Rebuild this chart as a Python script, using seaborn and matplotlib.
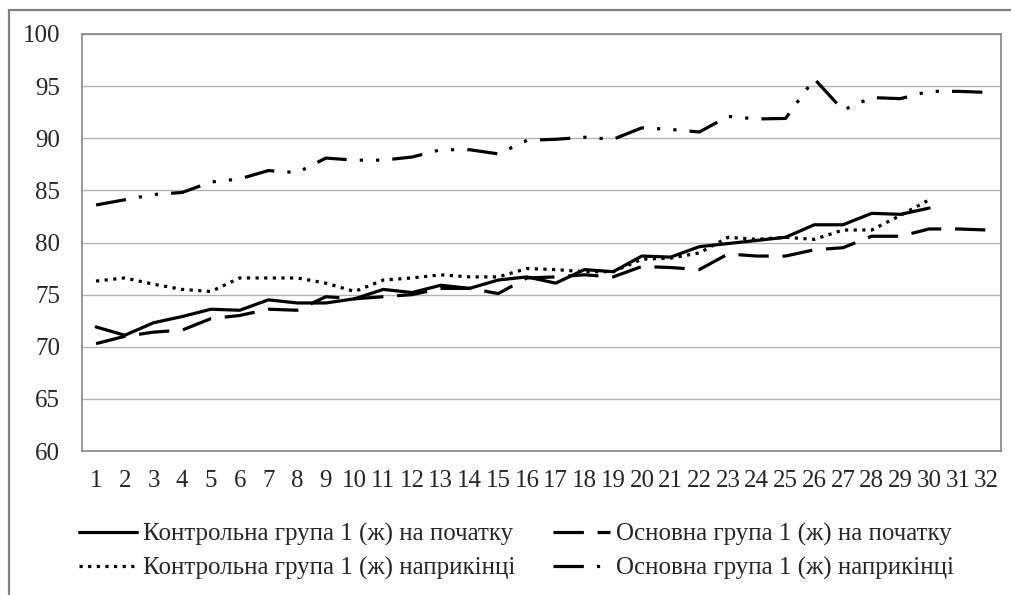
import matplotlib
matplotlib.use("Agg")
import matplotlib.pyplot as plt
from matplotlib.patches import Rectangle
import seaborn as sns
import numpy as np

# ---- data ----
categories = list(range(1, 33))
y_ticks = [60, 65, 70, 75, 80, 85, 90, 95, 100]

label_k_start = "Контрольна група 1 (ж) на початку"
label_o_start = "Основна група 1 (ж) на початку"
label_k_end = "Контрольна група 1 (ж) наприкінці"
label_o_end = "Основна група 1 (ж) наприкінці"

k_start = [71.9, 71.1, 72.3, 72.9, 73.6, 73.5, 74.5, 74.2, 74.2, 74.6,
           75.5, 75.2, 75.9, 75.6, 76.4, 76.7, 76.1, 77.4, 77.2, 78.7,
           78.6, 79.6, 79.9, 80.2, 80.5, 81.7, 81.7, 82.8, 82.7, 83.3]
o_start = [70.3, 71.0, 71.4, 71.6, 72.7, 73.0, 73.6, 73.5, 74.8, 74.6,
           74.8, 75.0, 75.6, 75.6, 75.1, 76.6, 76.7, 76.9, 76.7, 77.7,
           77.6, 77.4, 78.9, 78.7, 78.7, 79.3, 79.5, 80.6, 80.6, 81.3,
           81.3, 81.2]
k_end = [76.3, 76.6, 76.0, 75.5, 75.3, 76.6, 76.6, 76.6, 76.1, 75.3,
         76.4, 76.6, 76.9, 76.7, 76.7, 77.5, 77.4, 77.2, 77.2, 78.4,
         78.5, 79.0, 80.5, 80.3, 80.5, 80.3, 81.2, 81.2, 82.6, 84.1]
o_end = [83.6, 84.1, 84.6, 84.8, 85.8, 86.1, 86.9, 86.7, 88.1, 87.9,
         87.9, 88.2, 88.9, 88.9, 88.5, 89.8, 89.9, 90.1, 89.9, 91.0,
         90.85, 90.6, 92.1, 91.85, 91.9, 95.7, 92.7, 93.9, 93.8, 94.5,
         94.5, 94.4]

# ---- style ----
sns.set_style("white")
plt.rcParams["font.family"] = ["Liberation Serif", "DejaVu Serif"]
FS = 18

W, H = 1011, 595
fig = plt.figure(figsize=(W / 100, H / 100), dpi=100)
left, right, top, bottom = 81.7, 1001.0, 34.0, 451.0
ax = fig.add_axes([left / W, 1 - bottom / H, (right - left) / W, (bottom - top) / H])

LW = 2.3
sns.lineplot(x=categories[:len(k_start)], y=k_start, ax=ax, color="black",
             linewidth=LW, linestyle="-", label=label_k_start)
sns.lineplot(x=categories[:len(k_end)], y=k_end, ax=ax, color="black",
             linewidth=LW, linestyle=(0, (1, 1.7)), label=label_k_end)
sns.lineplot(x=categories[:len(o_start)], y=o_start, ax=ax, color="black",
             linewidth=LW, linestyle=(0, (9.5, 4.3)), label=label_o_start)
sns.lineplot(x=categories[:len(o_end)], y=o_end, ax=ax, color="black",
             linewidth=LW, linestyle=(0, (9.5, 4.1, 1, 4.1, 1, 4.1)), label=label_o_end)

ax.set_xlim(0.5, 32.5)
ax.set_ylim(60, 100)
ax.set_yticks(y_ticks)
ax.set_yticklabels([str(v) for v in y_ticks], fontsize=FS)
ax.set_xticks(categories)
ax.set_xticklabels([str(c) for c in categories], fontsize=FS)
ax.set_xticks(np.arange(0.5, 33, 1.0), minor=True)
ax.tick_params(axis="x", which="major", length=0, pad=14)
ax.tick_params(axis="x", which="minor", length=6.5, width=1, color="#868686", direction="out")
ax.tick_params(axis="y", which="major", length=6.5, width=1, color="#868686",
               direction="out", pad=9)
ax.set_xlabel("")
ax.set_ylabel("")

ax.grid(axis="y", color="#b3b3b3", linewidth=1)
ax.set_axisbelow(True)
for name, sp in ax.spines.items():
    sp.set_visible(True)
    sp.set_color("#868686")
    sp.set_linewidth(1.2)

# outer chart frame (only left and top visible within the image)
fig.patches.append(Rectangle((8.5 / W, -0.2), 2.0, 1.2 - 9.5 / H,
                             transform=fig.transFigure, fill=False,
                             edgecolor="#808080", linewidth=1.6))

ax.get_legend().remove()
handles, labels = ax.get_legend_handles_labels()
fig.legend(handles, labels, ncol=2, loc="upper left",
           bbox_to_anchor=(79 / W, 1 - 523 / H), frameon=False,
           fontsize=FS, handlelength=2.3, handletextpad=0.25,
           columnspacing=1.5, labelspacing=0.42, borderpad=0, borderaxespad=0)

fig.savefig("out.png", dpi=100)
